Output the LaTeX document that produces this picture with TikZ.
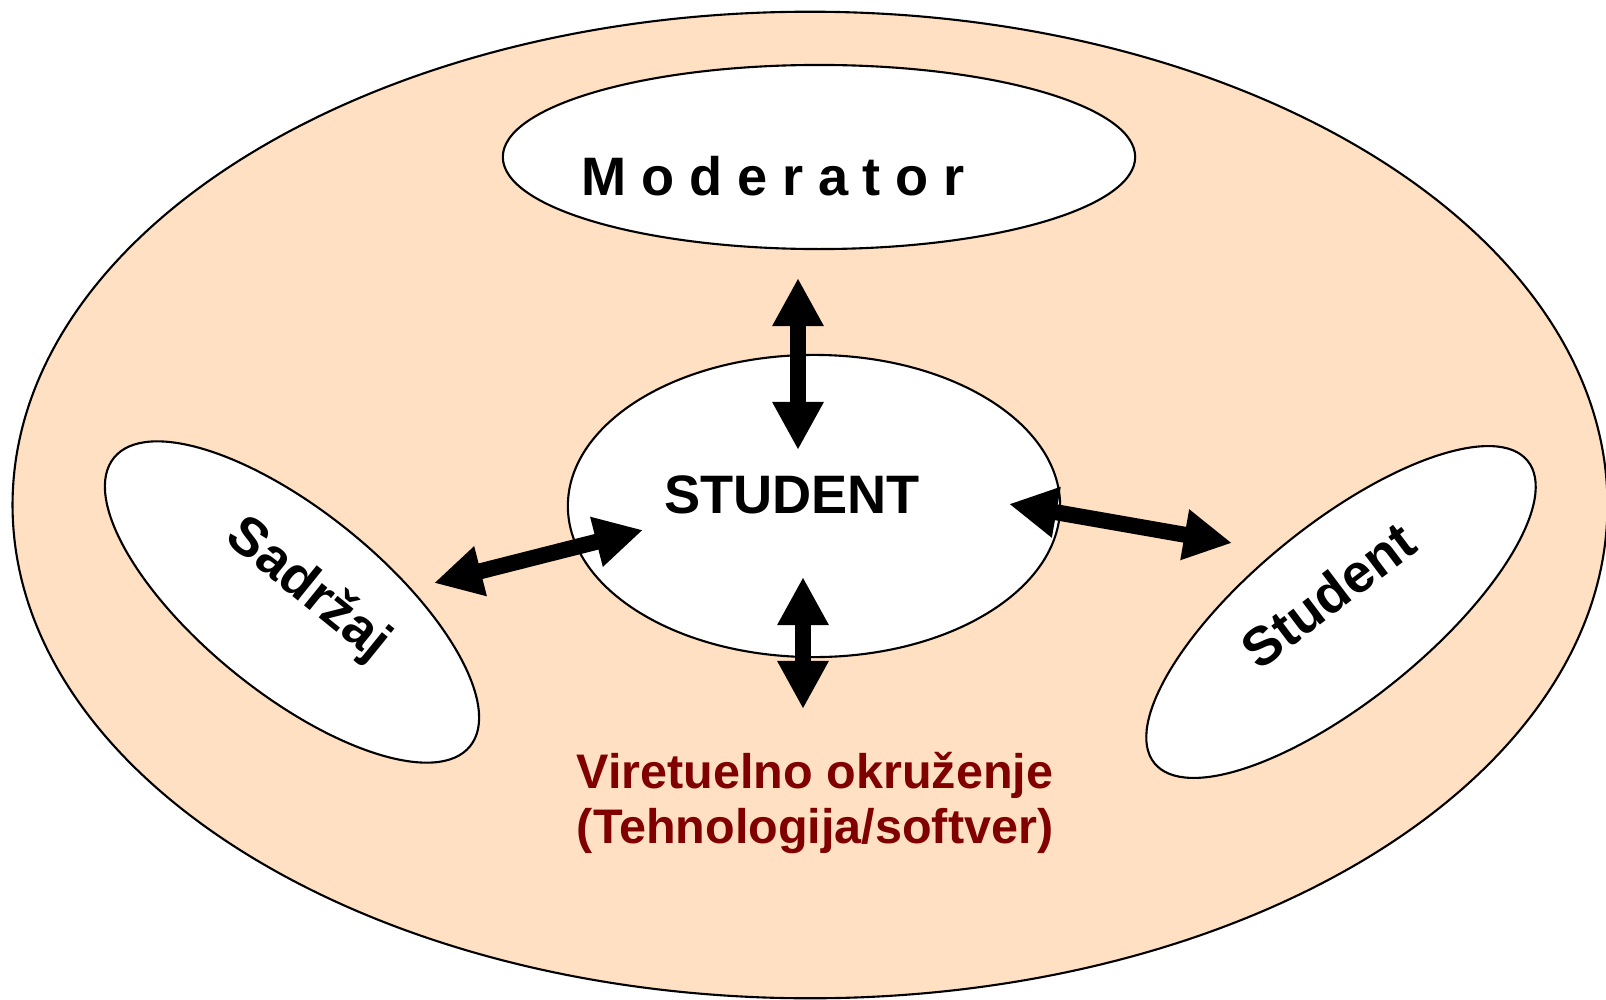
\documentclass[tikz,border=0pt]{standalone}
\usepackage{fontspec}
\setmainfont{Liberation Sans}
\newfontfamily\spacedfont[LetterSpace=27.3]{Liberation Sans}
\usetikzlibrary{shapes.geometric,arrows.meta}

\begin{document}
\begin{tikzpicture}[x=0.01cm,y=-0.01cm,
    oval/.style={ellipse, draw, line width=0.6pt, inner sep=0pt, fill=white},
    biarrow/.style={line width=0.16cm,
        {Triangle[length=0.48cm,width=0.48cm]}-{Triangle[length=0.48cm,width=0.48cm]}},
    lbl/.style={font=\fontsize{15.4}{18}\selectfont\bfseries}]
    % Define colors
    \definecolor{envcolor}{RGB}{255,224,195}
    \definecolor{envtext}{RGB}{128,0,0}

    \useasboundingbox (0,0) rectangle (1606,1000);
    \clip (0,0) rectangle (1606,1000);

    % Environment
    \node[oval, fill=envcolor, minimum width=15.94cm, minimum height=9.86cm] (env) at (810,505) {};

    % Ellipses
    \node[oval, minimum width=6.32cm, minimum height=1.84cm] (moderator) at (819,157) {};
    \node[oval, minimum width=4.92cm, minimum height=3.02cm] (student) at (814,506) {};
    \node[oval, minimum width=4.58cm, minimum height=1.82cm, rotate=-39] (content) at (292,602) {};
    \node[oval, minimum width=4.80cm, minimum height=1.76cm, rotate=39] (peer) at (1341,612) {};

    % Arrows
    \coordinate (up1) at (798,278);
    \coordinate (up2) at (798,450);
    \coordinate (down1) at (803,577);
    \coordinate (down2) at (803,709);
    \coordinate (left1) at (434,583);
    \coordinate (left2) at (643,530);
    \coordinate (right1) at (1009,504);
    \coordinate (right2) at (1232,543);
    \draw[biarrow] (up1) -- (up2);
    \draw[biarrow] (down1) -- (down2);
    \draw[biarrow] (left1) -- (left2);
    \draw[biarrow] (right1) -- (right2);

    % Labels
    \node[lbl, anchor=base west, inner sep=0pt] (moderatorlabel) at (581,195) {\spacedfont\bfseries Moderator};
    \node[lbl, anchor=base, inner sep=0pt] (studentlabel) at (792,513) {STUDENT};
    \node[lbl, rotate=-39, inner sep=0pt] (contentlabel) at (308,590) {Sadržaj};
    \node[lbl, rotate=37, inner sep=0pt] (peerlabel) at (1328,595) {Student};
    \node[font=\fontsize{13.8}{15.65}\selectfont\bfseries, text=envtext, align=center] (envlabel) at (815,803)
        {Viretuelno okruženje\\(Tehnologija/softver)};
\end{tikzpicture}
\end{document}
